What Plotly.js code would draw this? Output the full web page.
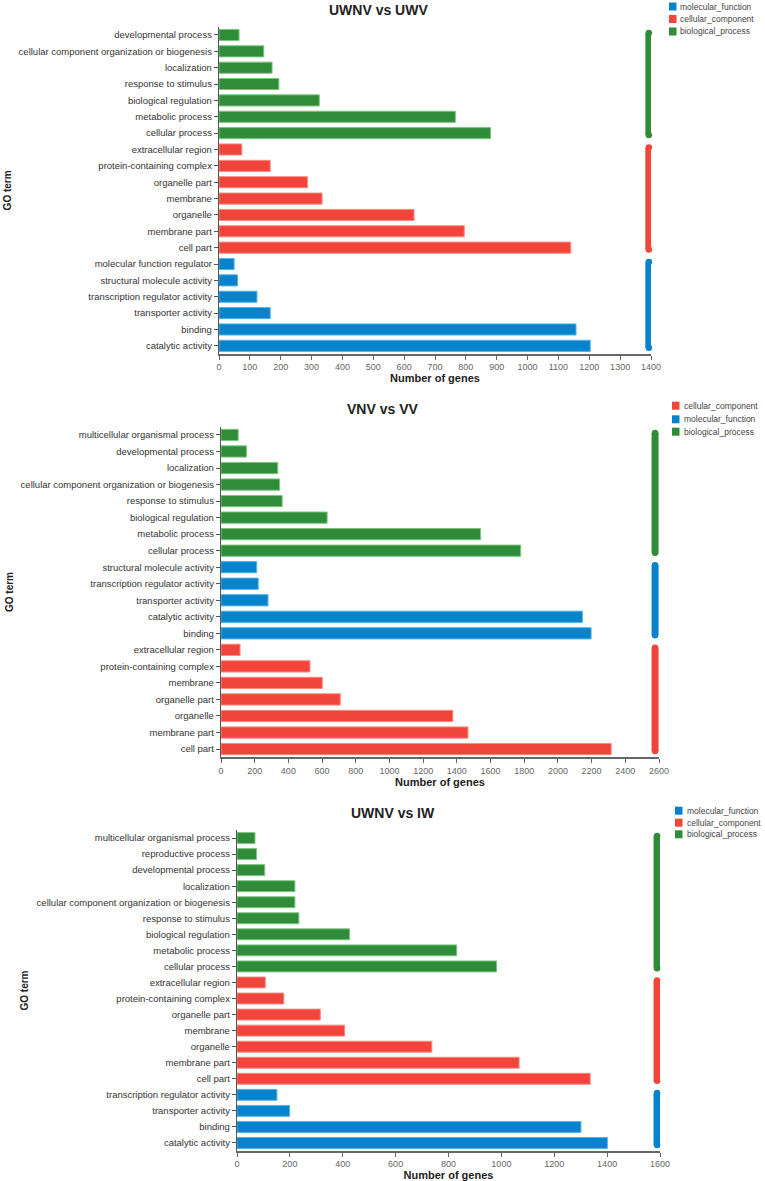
<!DOCTYPE html>
<html>
<head>
<meta charset="utf-8">
<script src="https://cdn.plot.ly/plotly-3.0.1.min.js"></script>
<style>
  html, body { margin: 0; padding: 0; background: #fff; }
  #chart { width: 765px; height: 1181px; }
</style>
</head>
<body>
<div id="chart"></div>
<script>
// GO ontology classes: full names, fill colours and lighter bar edges
const ontologyNames = { MF: 'molecular_function', CC: 'cellular_component', BP: 'biological_process' };
const ontologyFill  = { MF: '#0683cb', CC: '#f1443a', BP: '#2f8c38' };
const ontologyEdge  = { MF: '#56b2e8', CC: '#f98b80', BP: '#7cc77f' };

// UWNV vs UWV (top to bottom)
const uwvTerms = [
  'developmental process', 'cellular component organization or biogenesis', 'localization',
  'response to stimulus', 'biological regulation', 'metabolic process', 'cellular process',
  'extracellular region', 'protein-containing complex', 'organelle part', 'membrane',
  'organelle', 'membrane part', 'cell part',
  'molecular function regulator', 'structural molecule activity', 'transcription regulator activity',
  'transporter activity', 'binding', 'catalytic activity'
];
const uwvGenes = [65, 145, 172, 194, 325, 766, 880, 74, 166, 287, 334, 632, 795, 1140, 49, 60, 123, 166, 1157, 1203];
const uwvClass = ['BP','BP','BP','BP','BP','BP','BP','CC','CC','CC','CC','CC','CC','CC','MF','MF','MF','MF','MF','MF'];
const uwvLegend = ['MF', 'CC', 'BP'];

// VNV vs VV (top to bottom)
const vvTerms = [
  'multicellular organismal process', 'developmental process', 'localization',
  'cellular component organization or biogenesis', 'response to stimulus', 'biological regulation',
  'metabolic process', 'cellular process',
  'structural molecule activity', 'transcription regulator activity', 'transporter activity',
  'catalytic activity', 'binding',
  'extracellular region', 'protein-containing complex', 'membrane', 'organelle part',
  'organelle', 'membrane part', 'cell part'
];
const vvGenes = [102, 151, 337, 348, 363, 630, 1541, 1779, 212, 221, 279, 2145, 2197, 113, 528, 601, 708, 1376, 1466, 2316];
const vvClass = ['BP','BP','BP','BP','BP','BP','BP','BP','MF','MF','MF','MF','MF','CC','CC','CC','CC','CC','CC','CC'];
const vvLegend = ['CC', 'MF', 'BP'];

// UWNV vs IW (top to bottom)
const iwTerms = [
  'multicellular organismal process', 'reproductive process', 'developmental process', 'localization',
  'cellular component organization or biogenesis', 'response to stimulus', 'biological regulation',
  'metabolic process', 'cellular process',
  'extracellular region', 'protein-containing complex', 'organelle part', 'membrane',
  'organelle', 'membrane part', 'cell part',
  'transcription regulator activity', 'transporter activity', 'binding', 'catalytic activity'
];
const iwGenes = [68, 74, 105, 219, 219, 234, 426, 831, 982, 107, 177, 315, 407, 737, 1067, 1336, 151, 199, 1301, 1401];
const iwClass = ['BP','BP','BP','BP','BP','BP','BP','BP','BP','CC','CC','CC','CC','CC','CC','CC','MF','MF','MF','MF'];
const iwLegend = ['MF', 'CC', 'BP'];

const titles = ['UWNV vs UWV', 'VNV vs VV', 'UWNV vs IW'];
const xMax = [1400, 2600, 1600];
const xStep = [100, 200, 200];

// page geometry (pixels)
const W = 765, H = 1181;
const panels = [
  { terms: uwvTerms, genes: uwvGenes, cls: uwvClass, legend: uwvLegend,
    x0: 219, x1: 651, yTop: 26.8, yBot: 354, titleX: 378, titleY: 10,
    swX: 669, txtX: 678, rows: [6.5, 19, 31.5], sideFrac: 0.995, goStandoff: 5 },
  { terms: vvTerms, genes: vvGenes, cls: vvClass, legend: vvLegend,
    x0: 221, x1: 659, yTop: 426.7, yBot: 757.3, titleX: 382, titleY: 409,
    swX: 672, txtX: 682, rows: [405.7, 419.3, 431.7], sideFrac: 0.991, goStandoff: 5 },
  { terms: iwTerms, genes: iwGenes, cls: iwClass, legend: iwLegend,
    x0: 237, x1: 660, yTop: 830, yBot: 1151, titleX: 393, titleY: 813,
    swX: 675, txtX: 685, rows: [810.7, 822.7, 834.3], sideFrac: 0.993, goStandoff: 6 }
];

const fx = px => px / W;
const fy = py => 1 - py / H;
const FONT = 'Liberation Sans, Arial, sans-serif';

const traces = [];
const layout = {
  width: W, height: H,
  margin: { l: 0, r: 0, t: 0, b: 0 },
  paper_bgcolor: '#ffffff', plot_bgcolor: '#ffffff',
  showlegend: false,
  font: { family: FONT, size: 9, color: '#333' },
  annotations: [], shapes: []
};

panels.forEach((p, k) => {
  const sfx = k === 0 ? '' : String(k + 1);
  const xa = 'x' + sfx, ya = 'y' + sfx;
  const idx = p.terms.map((_, i) => i);

  // one bar trace per ontology class
  ['BP', 'CC', 'MF'].forEach(c => {
    const sel = idx.filter(i => p.cls[i] === c);
    if (!sel.length) return;
    traces.push({
      type: 'bar', orientation: 'h', xaxis: xa, yaxis: ya,
      name: ontologyNames[c],
      x: sel.map(i => p.genes[i]),
      y: sel.map(i => i),
      width: 0.68,
      marker: { color: ontologyFill[c], line: { color: ontologyEdge[c], width: 1 } },
      hovertemplate: '%{text}: %{x}<extra></extra>',
      text: sel.map(i => p.terms[i]), textposition: 'none'
    });

    // rounded class bracket at the right edge of the panel
    const first = Math.min(...sel), last = Math.max(...sel);
    const sx = xMax[k] * p.sideFrac;
    traces.push({
      type: 'scatter', mode: 'lines+markers', xaxis: xa, yaxis: ya,
      x: [sx, sx], y: [first - 0.12, last + 0.12],
      line: { color: ontologyFill[c], width: 7 },
      marker: { color: ontologyFill[c], size: 6.5, line: { width: 0 } },
      cliponaxis: false, hoverinfo: 'skip'
    });
  });

  layout['xaxis' + sfx] = {
    anchor: ya, domain: [fx(p.x0), fx(p.x1)],
    range: [0, xMax[k]], dtick: xStep[k], tick0: 0,
    showgrid: false, zeroline: false,
    showline: true, linecolor: '#666', linewidth: 1.6,
    ticks: 'outside', ticklen: 4, tickcolor: '#666', tickwidth: 1,
    tickfont: { family: FONT, size: 9, color: '#666' },
    title: { text: 'Number of genes', standoff: 1,
             font: { family: FONT, size: 11, color: '#222', weight: 'bold' } },
    fixedrange: true
  };
  layout['yaxis' + sfx] = {
    anchor: xa, domain: [fy(p.yBot), fy(p.yTop)],
    range: [p.terms.length - 0.5, -0.5],
    tickmode: 'array', tickvals: idx, ticktext: p.terms,
    showgrid: false, zeroline: false,
    showline: true, linecolor: '#555', linewidth: 1.2,
    ticks: 'outside', ticklen: 4, tickcolor: '#555', tickwidth: 1,
    tickfont: { family: FONT, size: 9.5, color: '#333' },
    title: { text: 'GO term', standoff: p.goStandoff,
             font: { family: FONT, size: 10, color: '#222', weight: 'bold' } },
    fixedrange: true
  };

  // panel title
  layout.annotations.push({
    xref: 'paper', yref: 'paper', x: fx(p.titleX), y: fy(p.titleY),
    xanchor: 'center', yanchor: 'middle', showarrow: false,
    text: '<b>' + titles[k] + '</b>',
    font: { family: FONT, size: 14, color: '#222' }
  });

  // legend: colour swatch + class name
  p.legend.forEach((c, r) => {
    const cy = p.rows[r];
    layout.shapes.push({
      type: 'rect', xref: 'paper', yref: 'paper',
      x0: fx(p.swX), x1: fx(p.swX + 7.5), y0: fy(cy + 4), y1: fy(cy - 4),
      fillcolor: ontologyFill[c], line: { width: 0 }
    });
    layout.annotations.push({
      xref: 'paper', yref: 'paper', x: fx(p.txtX), y: fy(cy),
      xanchor: 'left', yanchor: 'middle', showarrow: false,
      text: ontologyNames[c],
      font: { family: FONT, size: 8.5, color: '#444' }
    });
  });
});

Plotly.newPlot('chart', traces, layout, { displayModeBar: false, staticPlot: true });
</script>
</body>
</html>
